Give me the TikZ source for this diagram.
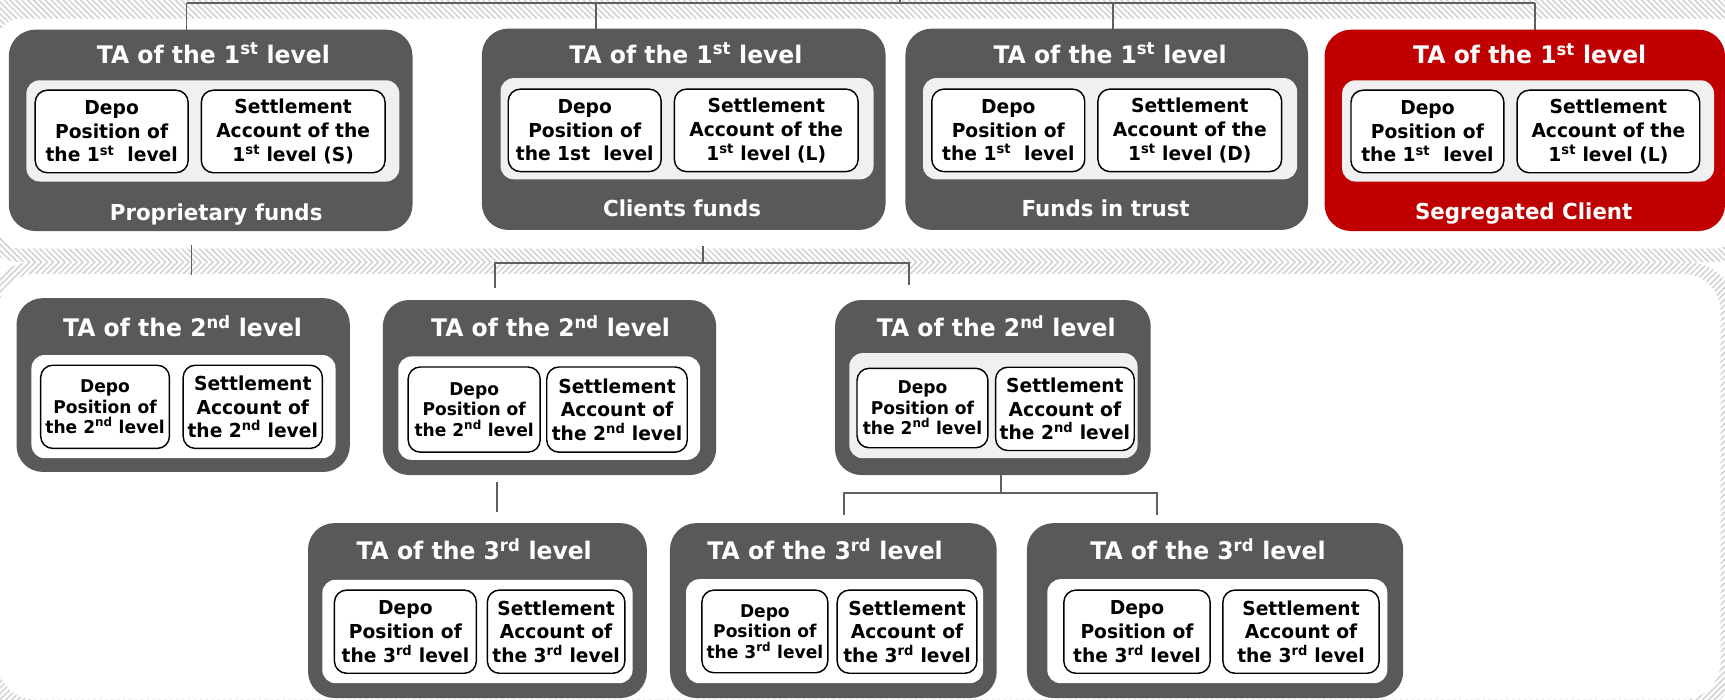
\documentclass[tikz,border=0pt]{standalone}
\usepackage{fontspec}
\setmainfont{DejaVu Sans}[FakeStretch=0.97]
\usetikzlibrary{patterns.meta}
\definecolor{tagray}{HTML}{595959}
\definecolor{tared}{HTML}{C00000}
\definecolor{panelgray}{HTML}{F0F0F0}
\definecolor{conngray}{HTML}{5F5F5F}
\definecolor{hatchc}{HTML}{D2D2D2}
\newcommand\ttlfont{\fontsize{22}{26}\selectfont\bfseries}
\newcommand\ftrfont{\fontsize{20}{24}\selectfont\bfseries}
\newcommand\subbig{\fontsize{17.5}{21.5}\selectfont\bfseries}
\newcommand\subsml{\fontsize{16}{18.5}\selectfont\bfseries}
\newcommand\bx[7][]{\node[#1,minimum width={(#5)-(#3)},minimum height={(#6)-(#4)}] (#2) at ({((#3)+(#5))/2},{((#4)+(#6))/2}) {#7};}
\tikzset{
  ta/.style={fill=tagray,rounded corners=24pt,inner sep=0pt,outer sep=0pt},
  tar/.style={ta,fill=tared},
  panel/.style={fill=panelgray,rounded corners=12pt,inner sep=0pt,outer sep=0pt},
  panelw/.style={panel,fill=white},
  sub/.style={draw=black,line width=1.3pt,fill=white,rounded corners=11pt,inner sep=0pt,outer sep=0pt,align=center,font=\subbig},
  subs/.style={sub,font=\subsml},
  ttl/.style={text=white,font=\ttlfont,anchor=base,inner sep=0pt},
  ftr/.style={text=white,font=\ftrfont,anchor=base,inner sep=0pt},
  conn/.style={draw=conngray,line width=1.6pt},
}
\begin{document}
\begin{tikzpicture}[x=1pt,y=-1pt]
\useasboundingbox (0,0) rectangle (1568,636);
\fill[white] (0,0) rectangle (1568,636);
\begin{scope}
\clip (0,0) rectangle (1568,636);
\fill[pattern={Lines[angle=-45,distance=3.8pt,line width=1.4pt]},pattern color=hatchc,even odd rule]
  [rounded corners=30pt] (-14,-30) rectangle (1590,238)
  [rounded corners=20pt] (-2,17) rectangle (1578,226);
\fill[pattern={Lines[angle=45,distance=3.8pt,line width=1.4pt]},pattern color=hatchc,even odd rule]
  [rounded corners=45pt] (-14,238) rectangle (1578,648)
  [rounded corners=34pt] (-2,249) rectangle (1564,636);
\end{scope}

% ---------- row 1 ----------
\bx[ta]{A}{8}{27}{375}{210}{}
\bx[panel]{Ap}{24}{73}{363}{165}{}
\bx[sub]{Ad}{32}{82}{171}{157}{Depo\\Position of\\the 1\textsuperscript{st}\ \ level}
\bx[sub]{As}{183}{82}{350}{157}{Settlement\\Account of the\\1\textsuperscript{st} level (S)}
\node[ttl] (At) at (194,57.5) {TA of the 1\textsuperscript{st} level};
\node[ftr] (Af) at (196.5,200) {Proprietary funds};

\bx[ta]{B}{438}{26}{805}{209}{}
\bx[panel]{Bp}{455}{71}{794}{163}{}
\bx[sub]{Bd}{462}{81}{601}{156}{Depo\\Position of\\the 1st\ \ level}
\bx[sub]{Bs}{613}{81}{780}{156}{Settlement\\Account of the\\1\textsuperscript{st} level (L)}
\node[ttl] (Bt) at (623.5,57.5) {TA of the 1\textsuperscript{st} level};
\node[ftr] (Bf) at (620,197) {Clients funds};

\bx[ta]{C}{823}{26}{1189}{209}{}
\bx[panel]{Cp}{839}{71}{1179}{163}{}
\bx[sub]{Cd}{847}{81}{986}{156}{Depo\\Position of\\the 1\textsuperscript{st}\ \ level}
\bx[sub]{Cs}{998}{81}{1165}{156}{Settlement\\Account of the\\1\textsuperscript{st} level (D)}
\node[ttl] (Ct) at (1009,57.5) {TA of the 1\textsuperscript{st} level};
\node[ftr] (Cf) at (1005,197) {Funds in trust};

\bx[tar]{D}{1204}{27}{1568}{210}{}
\bx[panel]{Dp}{1220}{73}{1558}{165}{}
\bx[sub]{Dd}{1228}{82}{1367}{157}{Depo\\Position of\\the 1\textsuperscript{st}\ \ level}
\bx[sub]{Ds}{1379}{82}{1545}{157}{Settlement\\Account of the\\1\textsuperscript{st} level (L)}
\node[ttl] (Dt) at (1390.5,58) {TA of the 1\textsuperscript{st} level};
\node[ftr] (Df) at (1385,199.5) {Segregated Client};

% ---------- row 2 ----------
\bx[ta]{A2}{15}{271}{318}{429}{}
\bx[panelw]{A2p}{28.6}{322.7}{305}{416.5}{}
\bx[subs]{A2d}{37}{332}{154}{407.6}{Depo\\Position of\\the 2\textsuperscript{nd} level}
\bx[sub]{A2s}{166.5}{332}{293}{407.6}{Settlement\\Account of\\the 2\textsuperscript{nd} level}
\node[ttl] (A2t) at (166,306) {TA of the 2\textsuperscript{nd} level};

\bx[ta]{B2}{348}{272.7}{651}{431.8}{}
\bx[panelw]{B2p}{362}{324}{636.5}{418}{}
\bx[subs]{B2d}{371}{333.6}{491}{411}{Depo\\Position of\\the 2\textsuperscript{nd} level}
\bx[sub]{B2s}{497}{333.6}{624.7}{411}{Settlement\\Account of\\the 2\textsuperscript{nd} level}
\node[ttl] (B2t) at (500.5,306) {TA of the 2\textsuperscript{nd} level};

\bx[ta]{C2}{759}{272.7}{1046}{431.8}{}
\bx[panel]{C2p}{772}{321}{1034}{416.5}{}
\bx[subs]{C2d}{779}{334.8}{898}{407}{Depo\\Position of\\the 2\textsuperscript{nd} level}
\bx[sub]{C2s}{905}{333.8}{1031}{409.5}{Settlement\\Account of\\the 2\textsuperscript{nd} level}
\node[ttl] (C2t) at (905.6,306) {TA of the 2\textsuperscript{nd} level};

% ---------- row 3 ----------
\bx[ta]{A3}{280}{475.5}{588}{634.5}{}
\bx[panelw]{A3p}{293}{527}{575}{621}{}
\bx[sub]{A3d}{304}{536.4}{433}{612}{Depo\\Position of\\the 3\textsuperscript{rd} level}
\bx[sub]{A3s}{443}{536.4}{568}{612}{Settlement\\Account of\\the 3\textsuperscript{rd} level}
\node[ttl] (A3t) at (431,509) {TA of the 3\textsuperscript{rd} level};

\bx[ta]{B3}{609}{475.5}{906}{634.5}{}
\bx[panelw]{B3p}{623.6}{526.5}{893.7}{621}{}
\bx[subs]{B3d}{638}{536.4}{752.5}{611.5}{Depo\\Position of\\the 3\textsuperscript{rd} level}
\bx[sub]{B3s}{761}{536.4}{888}{612}{Settlement\\Account of\\the 3\textsuperscript{rd} level}
\node[ttl] (B3t) at (750,509) {TA of the 3\textsuperscript{rd} level};

\bx[ta]{C3}{933.5}{475.5}{1275.5}{634.5}{}
\bx[panelw]{C3p}{952}{526.5}{1261}{621}{}
\bx[sub]{C3d}{967}{536.4}{1100}{612}{Depo\\Position of\\the 3\textsuperscript{rd} level}
\bx[sub]{C3s}{1111.6}{536.4}{1253.6}{612}{Settlement\\Account of\\the 3\textsuperscript{rd} level}
\node[ttl] (C3t) at (1098,509) {TA of the 3\textsuperscript{rd} level};

% ---------- connectors ----------
\coordinate (root) at (818,0);
\coordinate (busroot) at (818,3);
\coordinate (busA) at (169.6,3);
\coordinate (busB) at (542,3);
\coordinate (busC) at (1012,3);
\coordinate (busD) at (1395.6,3);
\draw[conn] (root) -- (busroot);
\draw[conn] (busA) -- (busD);
\draw[conn] (busA) -- (busA |- A.north);
\draw[conn] (busB) -- (busB |- B.north);
\draw[conn] (busC) -- (busC |- C.north);
\draw[conn] (busD) -- (busD |- D.north);

\coordinate (a1) at (174,223);
\coordinate (a2) at (174,250);
\draw[conn] (a1) -- (a2);

\coordinate (b1) at (638.8,224);
\coordinate (b2) at (638.8,239.4);
\coordinate (bl) at (450,239.4);
\coordinate (br) at (826.5,239.4);
\coordinate (bl2) at (450,262);
\coordinate (br2) at (826.5,259);
\draw[conn] (b1) -- (b2);
\draw[conn] (bl2) -- (bl) -- (br) -- (br2);

\coordinate (p1) at (451.5,438);
\coordinate (p2) at (451.5,465);
\draw[conn] (p1) -- (p2);

\coordinate (c1) at (909.8,448);
\coordinate (cl) at (767,448);
\coordinate (cr) at (1052,448);
\coordinate (cl2) at (767,468);
\coordinate (cr2) at (1052,468);
\draw[conn] (c1 |- C2.south) -- (c1);
\draw[conn] (cl2) -- (cl) -- (cr) -- (cr2);
\end{tikzpicture}
\end{document}
